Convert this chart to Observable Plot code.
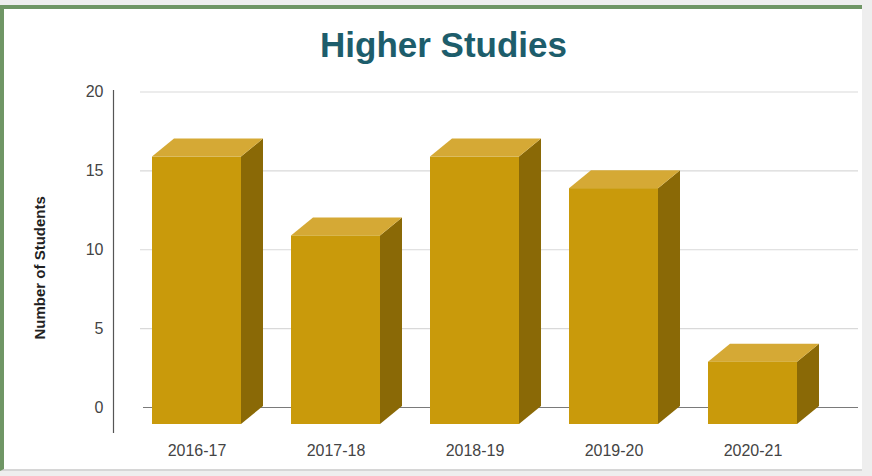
<!DOCTYPE html>
<html>
<head>
<meta charset="utf-8">
<script src="https://cdn.jsdelivr.net/npm/d3@7"></script>
<script src="https://cdn.jsdelivr.net/npm/@observablehq/plot@0.6"></script>
<style>
  html, body { margin: 0; padding: 0; }
  body { width: 872px; height: 476px; background: #eeeeee; position: relative; overflow: hidden;
         font-family: "Liberation Sans", Arial, sans-serif; }
  #panel { position: absolute; left: 0; top: 5px; width: 858px; height: 460px; background: #ffffff;
           border-top: 4px solid #6f9665; border-left: 4px solid #6f9665; border-bottom: 2px solid #d6d6d6; }
  #title { position: absolute; left: 443.5px; top: 25px; transform: translateX(-50%); white-space: nowrap;
           font-size: 35px; font-weight: bold; color: #1d5d6b; line-height: 40px; }
  #chart { position: absolute; left: 0; top: 70px; }
</style>
</head>
<body>
<div id="panel"></div>
<div id="title">Higher Studies</div>
<div id="chart"></div>
<script>
const years = ["2016-17", "2017-18", "2018-19", "2019-20", "2020-21"];
const students = [16, 11, 16, 14, 3];
const yTicks = [0, 5, 10, 15, 20];
const yLabel = "Number of Students";

const data = years.map((year, i) => ({year, value: students[i]}));

const DX = 22, DY = -18;
const frontColor = "#c99a0b", sideColor = "#8a6906", topColor = "#d5a935";

function addFaces(index, scales, values, dimensions, context, next) {
  const g = next(index, scales, values, dimensions, context);
  const ns = "http://www.w3.org/2000/svg";
  for (const r of Array.from(g.querySelectorAll("rect"))) {
    const x = +r.getAttribute("x"), y = +r.getAttribute("y");
    const w = +r.getAttribute("width"), h = +r.getAttribute("height");
    const xr = x + w, yb = y + h;
    const side = document.createElementNS(ns, "polygon");
    side.setAttribute("points", `${xr},${y} ${xr + DX},${y + DY} ${xr + DX},${yb + DY} ${xr},${yb}`);
    side.setAttribute("fill", sideColor);
    const top = document.createElementNS(ns, "polygon");
    top.setAttribute("points", `${x},${y} ${xr},${y} ${xr + DX},${y + DY} ${x + DX},${y + DY}`);
    top.setAttribute("fill", topColor);
    r.parentNode.insertBefore(side, r);
    r.parentNode.insertBefore(top, r);
  }
  return g;
}

const chart = Plot.plot({
  width: 872,
  height: 400,
  marginTop: 20,
  marginBottom: 38,
  marginLeft: 113,
  marginRight: 14,
  style: {fontFamily: "'Liberation Sans', Arial, sans-serif", background: "transparent", color: "#3a3a3a"},
  x: {domain: years, range: [101.9, 847.5], padding: 0.36, label: null},
  y: {domain: [0, 20], range: [337, 21.5], label: null},
  marks: [
    Plot.ruleY(yTicks.filter(d => d > 0), {stroke: "#d9d9d9", strokeWidth: 1.2, insetLeft: 27}),
    Plot.ruleY([0], {stroke: "#7a7a7a", strokeWidth: 1.2, insetLeft: 30}),
    Plot.frame({anchor: "left", stroke: "#555", strokeWidth: 1.2}),
    Plot.barY(data, {x: "year", y: "value", fill: frontColor, insetTop: 2, insetBottom: -17, render: addFaces}),
    Plot.axisY({ticks: yTicks, tickSize: 0, tickPadding: 10, fontSize: 16, label: null, fill: "#444"}),
    Plot.axisX({tickSize: 0, tickPadding: 12, fontSize: 16, label: null, fill: "#444"}),
    Plot.text([yLabel], {frameAnchor: "left", rotate: -90, dx: -73, dy: 78, fontSize: 15, fontWeight: "bold", fill: "#222"})
  ]
});
document.getElementById("chart").appendChild(chart);
</script>
</body>
</html>
